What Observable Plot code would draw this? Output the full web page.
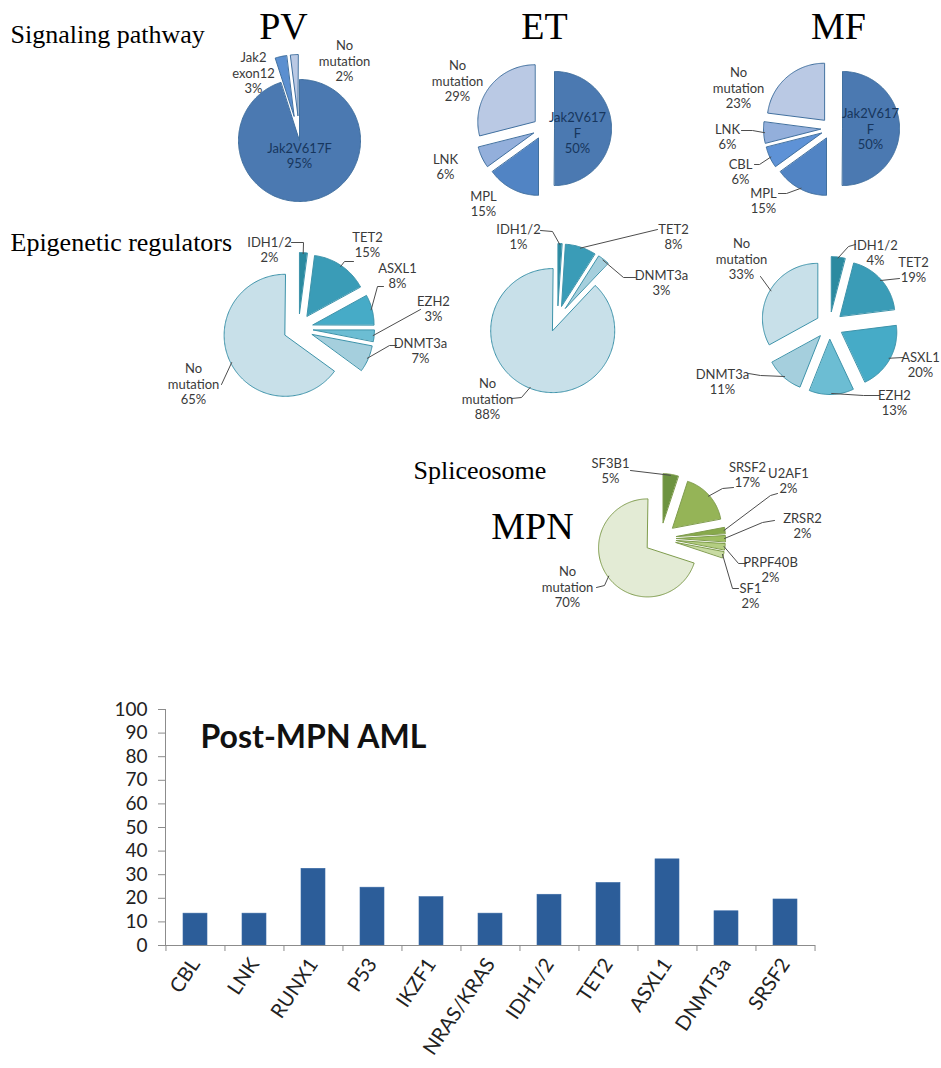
<!DOCTYPE html>
<html>
<head>
<meta charset="utf-8">
<script src="https://cdn.jsdelivr.net/npm/d3@7"></script>
<script src="https://cdn.jsdelivr.net/npm/@observablehq/plot@0.6"></script>
<style>
  html, body { margin: 0; padding: 0; background: #fff; }
  #chart svg { display: block; }
</style>
</head>
<body>
<div id="chart"></div>
<script>
// ---------------- DATA ----------------
const pvSignalCats = ["Jak2V617F", "Jak2 exon12", "No mutation"];
const pvSignalVals = [95, 3, 2];
const etSignalCats = ["Jak2V617F", "MPL", "LNK", "No mutation"];
const etSignalVals = [50, 15, 6, 29];
const mfSignalCats = ["Jak2V617F", "MPL", "CBL", "LNK", "No mutation"];
const mfSignalVals = [50, 15, 6, 6, 23];

const pvEpiCats = ["IDH1/2", "TET2", "ASXL1", "EZH2", "DNMT3a", "No mutation"];
const pvEpiVals = [2, 15, 8, 3, 7, 65];
const etEpiCats = ["IDH1/2", "TET2", "DNMT3a", "No mutation"];
const etEpiVals = [1, 8, 3, 88];
const mfEpiCats = ["IDH1/2", "TET2", "ASXL1", "EZH2", "DNMT3a", "No mutation"];
const mfEpiVals = [4, 19, 20, 13, 11, 33];

const spliceCats = ["SF3B1", "SRSF2", "U2AF1", "ZRSR2", "PRPF40B", "SF1", "No mutation"];
const spliceVals = [5, 17, 2, 2, 2, 2, 70];

const amlGenes = ["CBL", "LNK", "RUNX1", "P53", "IKZF1", "NRAS/KRAS", "IDH1/2", "TET2", "ASXL1", "DNMT3a", "SRSF2"];
const amlValues = [13.5, 13.5, 32.5, 24.5, 20.5, 13.5, 21.5, 26.5, 36.5, 14.5, 19.5];
const amlTicks = [0, 10, 20, 30, 40, 50, 60, 70, 80, 90, 100];

// ---------------- STYLE / LAYOUT ----------------
const W = 941, pieH = 650, barH = 418;
const labelFont = "Lato, 'Open Sans', sans-serif";
const serif = "'Liberation Serif', 'DejaVu Serif', serif";

const SIG = {"Jak2V617F": "#4b79b1", "Jak2 exon12": "#5b8fd0", "MPL": "#5184c4", "CBL": "#5e92d6", "LNK": "#93afdb", "No mutation": "#bac9e4"};
const EPI = {"IDH1/2": "#2b8aa0", "TET2": "#3a9cb7", "ASXL1": "#46abc7", "EZH2": "#6cbdd3", "DNMT3a": "#a5cfdd", "No mutation": "#c8e0e9"};
const SPL = {"SF3B1": "#6d9340", "SRSF2": "#95b457", "U2AF1": "#87a94b", "ZRSR2": "#9ebe60", "PRPF40B": "#b4ce82", "SF1": "#c8dba2", "No mutation": "#e3ebd5"};

const pies = [
  {key: "pvSig", cats: pvSignalCats, vals: pvSignalVals, cx: 299, cy: 140, r: 61, explode: [0, 25, 25], palette: SIG, stroke: "#41709f",
   labels: [
     {i: 0, x: 299, y: 155, inside: true},
     {i: 1, x: 253, y: 72},
     {i: 2, x: 344, y: 60}
   ]},
  {key: "etSig", cats: etSignalCats, vals: etSignalVals, cx: 543, cy: 128, r: 57, explode: 11, palette: SIG, stroke: "#41709f",
   labels: [
     {i: 0, x: 577, y: 132, inside: true, wrap: "Jak2V617\nF"},
     {i: 1, x: 483, y: 203},
     {i: 2, x: 445, y: 166},
     {i: 3, x: 457, y: 80}
   ]},
  {key: "mfSig", cats: mfSignalCats, vals: mfSignalVals, cx: 831, cy: 128, r: 57, explode: 11, palette: SIG, stroke: "#41709f",
   labels: [
     {i: 0, x: 870, y: 128, inside: true, wrap: "Jak2V617\nF"},
     {i: 1, x: 763, y: 200, lead: [[778, 193], [786, 193]]},
     {i: 2, x: 740, y: 171, lead: [[754, 164], [759, 164]]},
     {i: 3, x: 727, y: 136, lead: [[741, 130], [752, 130]]},
     {i: 4, x: 738, y: 87}
   ]},
  {key: "pvEpi", cats: pvEpiCats, vals: pvEpiVals, cx: 298, cy: 328, r: 61, explode: 15, palette: EPI, stroke: "#3d93aa",
   labels: [
     {i: 0, x: 269, y: 249, lead: [[291, 242], [303, 242]]},
     {i: 1, x: 367, y: 244, lead: [[353, 261], [344, 261]]},
     {i: 2, x: 397, y: 275, lead: [[383, 286], [377, 286]]},
     {i: 3, x: 433, y: 308, lead: [[420, 309]]},
     {i: 4, x: 420, y: 350, lead: [[396, 345], [389, 345]]},
     {i: 5, x: 193, y: 383, lead: [[221, 384]]}
   ]},
  {key: "etEpi", cats: etEpiCats, vals: etEpiVals, cx: 557, cy: 318, r: 62, explode: 13, palette: EPI, stroke: "#3d93aa",
   labels: [
     {i: 0, x: 518, y: 236, lead: [[540, 230], [552, 231]]},
     {i: 1, x: 673, y: 236, lead: [[657, 229]]},
     {i: 2, x: 661, y: 282, lead: [[635, 277], [623, 277]]},
     {i: 3, x: 487, y: 398, lead: [[511, 398], [521, 397]]}
   ]},
  {key: "mfEpi", cats: mfEpiCats, vals: mfEpiVals, cx: 829, cy: 325, r: 55, explode: 14, palette: EPI, stroke: "#3d93aa",
   labels: [
     {i: 0, x: 875, y: 252, lead: [[855, 244], [848, 246]]},
     {i: 1, x: 913, y: 269, lead: [[899, 278]]},
     {i: 2, x: 920, y: 364, lead: [[903, 357]]},
     {i: 3, x: 894, y: 402, lead: [[879, 395], [863, 395]]},
     {i: 4, x: 722, y: 381, lead: [[748, 373], [760, 375]]},
     {i: 5, x: 741, y: 258, lead: [[760, 276]]}
   ]},
  {key: "splice", cats: spliceCats, vals: spliceVals, cx: 660, cy: 538, r: 49, explode: 16, palette: SPL, stroke: "#7f9c4d",
   labels: [
     {i: 0, x: 610, y: 470, lead: [[630, 470]]},
     {i: 1, x: 747, y: 474, lead: [[733, 487], [722, 488]]},
     {i: 2, x: 788, y: 480, lead: [[777, 493], [770, 495]]},
     {i: 3, x: 802, y: 525, lead: [[774, 520], [762, 522]]},
     {i: 4, x: 770, y: 569, lead: [[746, 563], [738, 563]]},
     {i: 5, x: 750, y: 595, lead: [[738, 588], [732, 588]]},
     {i: 6, x: 567, y: 586, lead: [[596, 587], [604, 585]]}
   ]}
];

const titles = [
  {text: "Signaling pathway", x: 10, y: 42, size: 26, anchor: "start"},
  {text: "PV", x: 283, y: 38, size: 38, anchor: "middle"},
  {text: "ET", x: 544, y: 38, size: 38, anchor: "middle"},
  {text: "MF", x: 838, y: 38, size: 38, anchor: "middle"},
  {text: "Epigenetic regulators", x: 10, y: 250, size: 26, anchor: "start"},
  {text: "Spliceosome", x: 413, y: 478, size: 26, anchor: "start"},
  {text: "MPN", x: 532, y: 538, size: 38, anchor: "middle"}
];

// ---------------- GEOMETRY FROM DATA ----------------
const pieData = [], leaderData = [], labelData = [];
pies.forEach(p => {
  const arcs = d3.pie().sort(null).value(d => d)(p.vals);
  const geo = arcs.map((a, i) => {
    const mid = (a.startAngle + a.endAngle) / 2;
    const e = Array.isArray(p.explode) ? p.explode[i] : p.explode;
    return {a, mid, vx: p.cx + e * Math.sin(mid), vy: p.cy - e * Math.cos(mid)};
  });
  geo.forEach((g, i) => {
    const id = p.key + "-" + i;
    const fill = p.palette[p.cats[i]];
    pieData.push({id, x: g.vx, y: g.vy, fill, stroke: p.stroke});
    const span = g.a.endAngle - g.a.startAngle;
    const n = Math.max(2, Math.ceil(span / 0.02));
    for (let k = 0; k <= n; k++) {
      const t = g.a.startAngle + span * k / n;
      pieData.push({id, x: g.vx + p.r * Math.sin(t), y: g.vy - p.r * Math.cos(t), fill, stroke: p.stroke});
    }
  });
  p.labels.forEach(l => {
    const i = l.i;
    const name = l.wrap ?? p.cats[i].replace(" ", "\n");
    labelData.push({x: l.x, y: l.y, text: `${name}\n${p.vals[i]}%`, fill: l.inside ? "#17365d" : "#3a3a3a"});
    if (l.lead) {
      const g = geo[i];
      const id = p.key + "-lead-" + i;
      l.lead.forEach(([x, y]) => leaderData.push({id, x, y}));
      leaderData.push({id, x: g.vx + (p.r - 1) * Math.sin(g.mid), y: g.vy - (p.r - 1) * Math.cos(g.mid)});
    }
  });
});

// ---------------- PIE PANEL ----------------
const piePlot = Plot.plot({
  width: W, height: pieH,
  margin: 0,
  x: {domain: [0, W], range: [0, W], axis: null},
  y: {domain: [0, pieH], range: [0, pieH], axis: null},
  style: {background: "#fff"},
  marks: [
    Plot.line(pieData, {x: "x", y: "y", z: "id", fill: "fill", stroke: "stroke", strokeWidth: 1, curve: "linear-closed"}),
    Plot.line(leaderData, {x: "x", y: "y", z: "id", stroke: "#4d4d4d", strokeWidth: 1}),
    Plot.text(labelData, {x: "x", y: "y", text: "text", fill: "fill", fontSize: 13, fontFamily: labelFont, lineHeight: 1.2, lineAnchor: "middle", textAnchor: "middle"}),
    Plot.text(titles, {x: "x", y: "y", text: "text", fontSize: d => d.size, textAnchor: "start", fontFamily: serif, fill: "#000", lineAnchor: "bottom",
      filter: d => d.anchor === "start"}),
    Plot.text(titles, {x: "x", y: "y", text: "text", fontSize: d => d.size, textAnchor: "middle", fontFamily: serif, fill: "#000", lineAnchor: "bottom",
      filter: d => d.anchor === "middle"})
  ]
});

// ---------------- BAR PANEL ----------------
const amlData = amlGenes.map((g, i) => ({gene: g, value: amlValues[i]}));
const mL = 165, mR = 126;
const step = (W - mL - mR) / amlGenes.length;
const barPlot = Plot.plot({
  width: W, height: barH,
  marginTop: 59, marginBottom: 123, marginLeft: mL, marginRight: mR,
  style: {background: "#fff", fontFamily: labelFont},
  x: {domain: amlGenes, paddingInner: 0.59, paddingOuter: 0.295},
  y: {domain: [0, 100]},
  marks: [
    Plot.barY(amlData, {x: "gene", y: "value", fill: "#2c5d99", stroke: "#3a6aa5", strokeWidth: 0.6}),
    Plot.frame({anchor: "left", stroke: "#8c8c8c"}),
    Plot.ruleY([0], {stroke: "#8c8c8c"}),
    Plot.ruleX(amlGenes, {x: d => d, dx: -step / 2, y1: 0, y2: 0, insetBottom: -6, stroke: "#8c8c8c"}),
    Plot.ruleX(amlGenes.slice(-1), {x: d => d, dx: step / 2, y1: 0, y2: 0, insetBottom: -6, stroke: "#8c8c8c"}),
    Plot.axisY({ticks: amlTicks, tickSize: 7, tickPadding: 11, fontSize: 19, label: null, stroke: "#8c8c8c", fill: "#222"}),
    Plot.axisX({tickSize: 0, tickRotate: -56, tickPadding: 15, fontSize: 20, label: null, fill: "#222"}),
    Plot.text(["Post-MPN AML"], {frameAnchor: "top-left", dx: 35, dy: 38, lineAnchor: "bottom", textAnchor: "start",
      fontWeight: "bold", fontSize: 32, fontFamily: labelFont, fill: "#111"})
  ]
});

const root = document.getElementById("chart");
root.appendChild(piePlot);
root.appendChild(barPlot);
</script>
</body>
</html>
